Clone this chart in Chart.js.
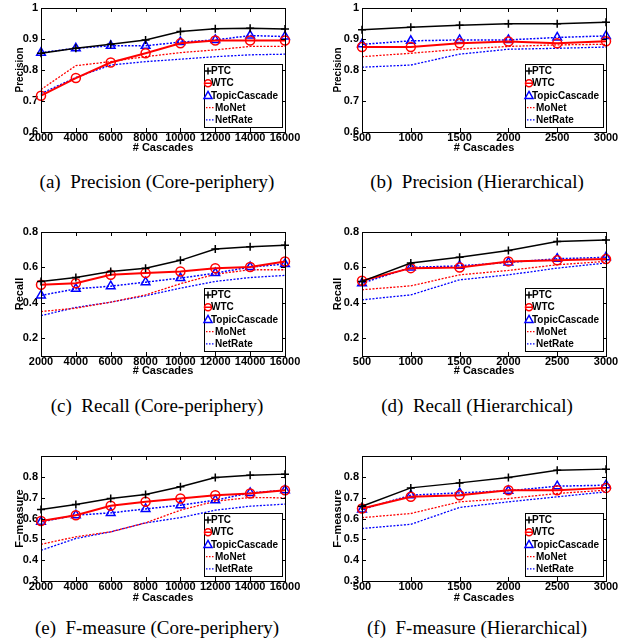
<!DOCTYPE html>
<html>
<head>
<meta charset="utf-8">
<script src="https://cdn.jsdelivr.net/npm/chart.js@4/dist/chart.umd.min.js"></script>
<style>
  body { margin: 0; background: #fff; }
  #page { position: relative; width: 628px; height: 643px; overflow: hidden; }
  canvas { position: absolute; }
  .cap {
    position: absolute; width: 310px; text-align: center; white-space: pre;
    font-family: "Liberation Serif", "Times New Roman", serif; font-size: 19px; line-height: 20px;
  }
</style>
</head>
<body>
<div id="page"></div>
<script>
// x values
var coreX = [2000, 4000, 6000, 8000, 10000, 12000, 14000, 16000];
var hierX = [500, 1000, 1500, 2000, 2500, 3000];
var seriesNames = ['PTC', 'WTC', 'TopicCascade', 'MoNet', 'NetRate'];

// y tick labels
var precTicks = [0.6, 0.7, 0.8, 0.9, 1];
var recallTicks = [0.2, 0.4, 0.6, 0.8];
var fTicks = [0.3, 0.4, 0.5, 0.6, 0.7, 0.8];

// (a) precision, core-periphery: PTC, WTC, TopicCascade, MoNet, NetRate
var precCore = [
    [0.854, 0.870, 0.883, 0.897, 0.924, 0.933, 0.935, 0.932],
    [0.717, 0.774, 0.824, 0.854, 0.886, 0.895, 0.895, 0.895],
    [0.856, 0.870, 0.878, 0.878, 0.890, 0.897, 0.911, 0.908],
    [0.737, 0.814, 0.827, 0.843, 0.856, 0.865, 0.876, 0.876],
    [0.724, 0.776, 0.816, 0.827, 0.835, 0.843, 0.849, 0.851]
];
// (b) precision, hierarchical
var precHier = [
    [0.930, 0.938, 0.944, 0.949, 0.949, 0.954],
    [0.874, 0.874, 0.886, 0.892, 0.886, 0.893],
    [0.883, 0.894, 0.897, 0.897, 0.905, 0.910],
    [0.843, 0.854, 0.867, 0.876, 0.881, 0.883],
    [0.809, 0.816, 0.851, 0.867, 0.870, 0.874]
];
// (c) recall, core-periphery
var recallCore = [
    [0.521, 0.543, 0.577, 0.596, 0.640, 0.704, 0.717, 0.725],
    [0.502, 0.511, 0.558, 0.568, 0.577, 0.596, 0.602, 0.634],
    [0.442, 0.479, 0.494, 0.517, 0.540, 0.568, 0.602, 0.619],
    [0.351, 0.370, 0.404, 0.445, 0.508, 0.562, 0.587, 0.587],
    [0.328, 0.374, 0.404, 0.440, 0.483, 0.521, 0.543, 0.555]
];
// (d) recall, hierarchical
var recallHier = [
    [0.521, 0.625, 0.657, 0.696, 0.747, 0.755],
    [0.525, 0.596, 0.600, 0.634, 0.640, 0.647],
    [0.511, 0.600, 0.609, 0.628, 0.649, 0.657],
    [0.474, 0.496, 0.558, 0.583, 0.615, 0.634],
    [0.417, 0.445, 0.530, 0.558, 0.596, 0.625]
];
// (e) F-measure, core-periphery
var fCore = [
    [0.643, 0.667, 0.696, 0.715, 0.752, 0.797, 0.808, 0.813],
    [0.588, 0.616, 0.661, 0.680, 0.696, 0.712, 0.720, 0.736],
    [0.584, 0.616, 0.627, 0.646, 0.664, 0.688, 0.723, 0.736],
    [0.476, 0.512, 0.536, 0.579, 0.640, 0.683, 0.701, 0.699],
    [0.447, 0.504, 0.536, 0.579, 0.604, 0.640, 0.659, 0.669]
];
// (f) F-measure, hierarchical
var fHier = [
    [0.659, 0.747, 0.771, 0.797, 0.832, 0.837],
    [0.648, 0.704, 0.712, 0.736, 0.736, 0.747],
    [0.643, 0.712, 0.723, 0.733, 0.755, 0.760],
    [0.604, 0.624, 0.680, 0.696, 0.720, 0.736],
    [0.552, 0.572, 0.653, 0.680, 0.704, 0.728]
];

var SANS = '"Liberation Sans", Arial, Helvetica, sans-serif';

// line look of each series
var styles = [
    { color: '#000', width: 1.5, dash: [], point: 'cross', radius: 4 },
    { color: '#ff0000', width: 2, dash: [], point: 'circle', radius: 4.5 },
    { color: '#0000ff', width: 1.5, dash: [2, 1.5], point: 'triangle', radius: 5 },
    { color: '#ff0000', width: 1.3, dash: [2, 1.5], point: false, radius: 0 },
    { color: '#0000ff', width: 1.3, dash: [2, 1.5], point: false, radius: 0 }
];

// rows: canvas top, height, chart area top/bottom, x-title centre (page coords), caption centre
var rows = [
    { top: 0, height: 160, chartTop: 8, chartBottom: 132, titleY: 148, capY: 182 },
    { top: 215, height: 165, chartTop: 232, chartBottom: 356, titleY: 371, capY: 406 },
    { top: 430, height: 175, chartTop: 456, chartBottom: 581, titleY: 597.5, capY: 628 }
];
var cols = [
    { left: 0, chartLeft: 41, chartRight: 285, capX: 157 },
    { left: 318, chartLeft: 44, chartRight: 288, capX: 477 }
];

var panels = [
    { row: 0, col: 0, xs: coreX, data: precCore, yTitle: 'Precision', ySize: 10, yMin: 0.6, yMax: 1, yTicks: precTicks, cap: '(a)  Precision (Core-periphery)' },
    { row: 0, col: 1, xs: hierX, data: precHier, yTitle: 'Precision', ySize: 10, yMin: 0.6, yMax: 1, yTicks: precTicks, cap: '(b)  Precision (Hierarchical)' },
    { row: 1, col: 0, xs: coreX, data: recallCore, yTitle: 'Recall', ySize: 11, yMin: 0.1, yMax: 0.8, yTicks: recallTicks, cap: '(c)  Recall (Core-periphery)' },
    { row: 1, col: 1, xs: hierX, data: recallHier, yTitle: 'Recall', ySize: 11, yMin: 0.1, yMax: 0.8, yTicks: recallTicks, cap: '(d)  Recall (Hierarchical)' },
    { row: 2, col: 0, xs: coreX, data: fCore, yTitle: 'F\u2212measure', ySize: 11, yMin: 0.3, yMax: 0.9, yTicks: fTicks, cap: '(e)  F-measure (Core-periphery)' },
    { row: 2, col: 1, xs: hierX, data: fHier, yTitle: 'F\u2212measure', ySize: 11, yMin: 0.3, yMax: 0.9, yTicks: fTicks, cap: '(f)  F-measure (Hierarchical)' }
];

// frame, inward ticks and the legend box inside the plot
var framePlugin = {
    id: 'frame',
    afterDatasetsDraw: function (chart) {
        var ctx = chart.ctx, a = chart.chartArea;
        ctx.save();
        ctx.strokeStyle = '#000';
        ctx.lineWidth = 1;
        ctx.beginPath();
        chart.scales.x.ticks.forEach(function (t) {
            var px = Math.round(chart.scales.x.getPixelForValue(t.value)) + 0.5;
            ctx.moveTo(px, a.bottom); ctx.lineTo(px, a.bottom - 4);
            ctx.moveTo(px, a.top); ctx.lineTo(px, a.top + 4);
        });
        chart.scales.y.ticks.forEach(function (t) {
            var py = Math.round(chart.scales.y.getPixelForValue(t.value)) + 0.5;
            ctx.moveTo(a.left, py); ctx.lineTo(a.left + 4, py);
            ctx.moveTo(a.right, py); ctx.lineTo(a.right - 4, py);
        });
        ctx.stroke();
        ctx.strokeRect(Math.round(a.left) + 0.5, Math.round(a.top) + 0.5, Math.round(a.right - a.left), Math.round(a.bottom - a.top));

        // legend
        var w = 78, h = 63;
        var x0 = Math.round(a.right - w - 3), y0 = Math.round(a.bottom - h - 5);
        ctx.fillStyle = '#fff';
        ctx.fillRect(x0, y0, w, h);
        ctx.lineWidth = 1;
        ctx.strokeRect(x0 + 0.5, y0 + 0.5, w, h);
        ctx.font = 'bold 10px ' + SANS;
        ctx.textBaseline = 'middle';
        seriesNames.forEach(function (name, i) {
            var st = styles[i];
            var y = y0 + 7 + i * 12.2;
            var mx = x0 + 4;
            ctx.strokeStyle = st.color;
            ctx.setLineDash([]);
            ctx.lineWidth = 1.5;
            ctx.beginPath();
            if (st.point === 'cross') {
                ctx.moveTo(mx - 3.5, y); ctx.lineTo(mx + 3.5, y);
                ctx.moveTo(mx, y - 3.5); ctx.lineTo(mx, y + 3.5);
            } else if (st.point === 'circle') {
                ctx.arc(mx, y, 3.5, 0, Math.PI * 2);
                ctx.moveTo(mx - 3.5, y); ctx.lineTo(mx + 3.5, y);
            } else if (st.point === 'triangle') {
                ctx.moveTo(mx, y - 4); ctx.lineTo(mx + 4, y + 3); ctx.lineTo(mx - 4, y + 3); ctx.closePath();
            } else {
                ctx.lineWidth = 1.2;
                ctx.setLineDash([1.5, 1.5]);
                ctx.moveTo(x0 + 2, y); ctx.lineTo(x0 + 10, y);
            }
            ctx.stroke();
            ctx.setLineDash([]);
            ctx.fillStyle = '#000';
            ctx.fillText(name, x0 + (st.point ? 7 : 11), y + 0.5);
        });
        ctx.restore();
    }
};

var page = document.getElementById('page');

panels.forEach(function (p) {
    var r = rows[p.row], c = cols[p.col];
    var canvas = document.createElement('canvas');
    canvas.width = 310;
    canvas.height = r.height;
    canvas.style.left = c.left + 'px';
    canvas.style.top = r.top + 'px';
    page.appendChild(canvas);

    var cap = document.createElement('div');
    cap.className = 'cap';
    cap.textContent = p.cap;
    cap.style.left = (c.capX - 155) + 'px';
    cap.style.top = (r.capY - 10) + 'px';
    page.appendChild(cap);

    var xTitlePad = r.height - (r.titleY - r.top) - 6.6;

    var datasets = seriesNames.map(function (name, i) {
        var st = styles[i];
        return {
            label: name,
            data: p.xs.map(function (x, j) { return { x: x, y: p.data[i][j] }; }),
            borderColor: st.color,
            borderWidth: st.width,
            borderDash: st.dash,
            pointStyle: st.point,
            pointRadius: st.radius,
            pointHoverRadius: st.radius,
            pointBorderColor: st.color,
            pointBorderWidth: 1.5,
            pointBackgroundColor: 'rgba(0,0,0,0)',
            tension: 0,
            fill: false,
            clip: false
        };
    });

    new Chart(canvas.getContext('2d'), {
        type: 'line',
        data: { datasets: datasets },
        options: {
            responsive: false,
            animation: false,
            events: [],
            layout: {
                autoPadding: false,
                padding: { left: 0, right: 310 - c.chartRight, top: r.chartTop - r.top, bottom: 0 }
            },
            plugins: { legend: { display: false }, tooltip: { enabled: false } },
            scales: {
                x: {
                    type: 'linear',
                    min: p.xs[0],
                    max: p.xs[p.xs.length - 1],
                    grid: { display: false, drawTicks: false },
                    border: { display: false },
                    afterBuildTicks: function (s) { s.ticks = p.xs.map(function (v) { return { value: v }; }); },
                    afterFit: function (s) { s.height = r.top + r.height - r.chartBottom; s.paddingLeft = 0; s.paddingRight = 0; },
                    ticks: {
                        padding: 0,
                        maxRotation: 0,
                        autoSkip: false,
                        color: '#000',
                        font: { family: SANS, size: 11, weight: 'bold', lineHeight: 1 },
                        callback: function (v) { return String(v); }
                    },
                    title: {
                        display: true,
                        text: '# Cascades',
                        color: '#000',
                        padding: { top: 0, bottom: xTitlePad },
                        font: { family: SANS, size: 11, weight: 'bold', lineHeight: 1.2 }
                    }
                },
                y: {
                    min: p.yMin,
                    max: p.yMax,
                    grid: { display: false, drawTicks: false },
                    border: { display: false },
                    afterBuildTicks: function (s) { s.ticks = p.yTicks.map(function (v) { return { value: v }; }); },
                    afterFit: function (s) { s.width = c.chartLeft; s.paddingTop = 0; s.paddingBottom = 0; },
                    ticks: {
                        padding: 3,
                        color: '#000',
                        font: { family: SANS, size: 11, weight: 'bold', lineHeight: 1 },
                        callback: function (v) { return String(Math.round(v * 10) / 10); }
                    },
                    title: {
                        display: true,
                        text: p.yTitle,
                        color: '#000',
                        padding: { top: 20 - p.ySize * 0.6, bottom: 0 },
                        font: { family: SANS, size: p.ySize, weight: 'bold', lineHeight: 1.2 }
                    }
                }
            }
        },
        plugins: [framePlugin]
    });
});
</script>
</body>
</html>
